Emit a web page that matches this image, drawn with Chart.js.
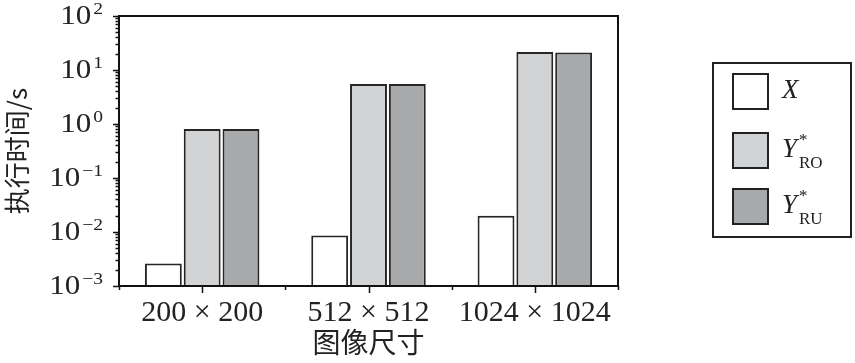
<!DOCTYPE html>
<html>
<head>
<meta charset="utf-8">
<script src="https://cdn.jsdelivr.net/npm/chart.js@4/dist/chart.umd.min.js"></script>
<style>
html, body { margin: 0; padding: 0; background: #fff; }
#wrap { position: relative; width: 855px; height: 363px; }
#legend { position: absolute; left: 712px; top: 62px; width: 136px; height: 172px; border: 2px solid #222; }
.sw { position: absolute; left: 18px; width: 33px; height: 33px; border: 2px solid #222; }
.main { position: absolute; left: 68px; font: italic 27px/26px 'Liberation Serif', serif; color: #222; }
.sup, .sub { position: absolute; left: 85px; font: 17px/16px 'Liberation Serif', serif; color: #222; }
</style>
</head>
<body>
<div id="wrap">
  <canvas id="chart" width="855" height="363"></canvas>
  <div id="legend"></div>
</div>
<script>
const categories = ['200 × 200', '512 × 512', '1024 × 1024'];
const xTimes = [0.0026, 0.0086, 0.020];
const yRoTimes = [0.81, 5.5, 21.5];
const yRuTimes = [0.81, 5.5, 21.0];
const yTickPowers = [-3, -2, -1, 0, 1, 2];

const seriesBase = ['X', 'Y', 'Y'];
const seriesSup = ['', '*', '*'];
const seriesSub = ['', 'RO', 'RU'];
const seriesColors = ['#ffffff', '#d2d3d5', '#a8a9ab'];

const edge = '#262626';
const serif = "'Liberation Serif', serif";

// legend, built from the series names
const legend = document.getElementById('legend');
const swTop = [9, 68, 124];
seriesBase.forEach((b, i) => {
  const sw = document.createElement('div');
  sw.className = 'sw';
  sw.style.top = swTop[i] + 'px';
  sw.style.background = seriesColors[i];
  legend.appendChild(sw);

  const m = document.createElement('div');
  m.className = 'main';
  m.style.top = (swTop[i] + 3) + 'px';
  m.textContent = b;
  legend.appendChild(m);

  if (seriesSup[i]) {
    const s = document.createElement('div');
    s.className = 'sup';
    s.style.top = (swTop[i] + 0) + 'px';
    s.textContent = seriesSup[i];
    legend.appendChild(s);
  }
  if (seriesSub[i]) {
    const s = document.createElement('div');
    s.className = 'sub';
    s.style.top = (swTop[i] + 23) + 'px';
    s.textContent = seriesSub[i];
    legend.appendChild(s);
  }
});

const axisDecor = {
  id: 'axisDecor',
  afterDraw(chart) {
    const { ctx, chartArea: a, scales: { x, y } } = chart;
    ctx.save();
    ctx.strokeStyle = '#111';
    ctx.lineWidth = 2;
    ctx.strokeRect(a.left, a.top, a.right - a.left, a.bottom - a.top);

    // y ticks: majors at powers of ten, minors at 2..9
    ctx.lineWidth = 1.5;
    ctx.beginPath();
    for (let p = yTickPowers[0]; p <= yTickPowers[yTickPowers.length - 1]; p++) {
      for (let k = 1; k <= 9; k++) {
        const v = k * Math.pow(10, p);
        if (v > y.max * 1.0001) break;
        const py = Math.round(y.getPixelForValue(v)) + 0.5;
        ctx.moveTo(a.left, py);
        ctx.lineTo(a.left - (k === 1 ? 6 : 3.5), py);
      }
    }
    // x ticks: long at category centres, short at boundaries
    for (let i = 0; i < categories.length; i++) {
      const px = Math.round(x.getPixelForTick(i)) + 0.5;
      ctx.moveTo(px, a.bottom);
      ctx.lineTo(px, a.bottom + 7);
    }
    const half = (x.getPixelForTick(1) - x.getPixelForTick(0)) / 2;
    for (let i = 0; i <= categories.length; i++) {
      const px = Math.round(x.getPixelForTick(0) - half + i * half * 2) + 0.5;
      ctx.moveTo(px, a.bottom);
      ctx.lineTo(px, a.bottom + 4);
    }
    ctx.stroke();

    // y labels 10^n, a little wider like the original typeface
    ctx.fillStyle = '#222';
    const sx = 1.15;
    yTickPowers.forEach((p) => {
      const py = y.getPixelForValue(Math.pow(10, p));
      const exp = p < 0 ? '\u2212' + Math.abs(p) : String(p);
      ctx.font = '17px ' + serif;
      const ew = ctx.measureText(exp).width * sx;
      ctx.font = '27px ' + serif;
      const bw = ctx.measureText('10').width * sx;
      const right = 103;
      ctx.save();
      ctx.translate(right - ew - 2 - bw, py + 1);
      ctx.scale(sx, 1);
      ctx.textBaseline = 'middle';
      ctx.textAlign = 'left';
      ctx.fillText('10', 0, 0);
      ctx.restore();
      ctx.save();
      ctx.translate(right - ew, py - 2);
      ctx.scale(sx, 1);
      ctx.font = '17px ' + serif;
      ctx.textBaseline = 'alphabetic';
      ctx.fillText(exp, 0, 0);
      ctx.restore();
    });
    ctx.restore();
  }
};

new Chart(document.getElementById('chart'), {
  type: 'bar',
  data: {
    labels: categories,
    datasets: [
      { label: 'X', data: xTimes, backgroundColor: seriesColors[0] },
      { label: 'Y*RO', data: yRoTimes, backgroundColor: seriesColors[1] },
      { label: 'Y*RU', data: yRuTimes, backgroundColor: seriesColors[2] }
    ]
  },
  options: {
    responsive: false,
    animation: false,
    devicePixelRatio: 1,
    layout: { padding: { top: 16, right: 237, left: 0, bottom: 0 } },
    datasets: {
      bar: {
        borderColor: edge,
        borderWidth: 2,
        categoryPercentage: 0.7,
        barPercentage: 0.95
      }
    },
    plugins: { legend: { display: false }, tooltip: { enabled: false } },
    scales: {
      x: {
        grid: { display: false, drawTicks: false },
        border: { display: false },
        ticks: {
          color: '#222',
          padding: 9,
          maxRotation: 0,
          autoSkip: false,
          font: { family: serif, size: 30 }
        },
        title: {
          display: true,
          text: '图像尺寸',
          color: '#222',
          padding: { top: 0, bottom: 4 },
          font: { family: "'Noto Sans CJK SC', sans-serif", size: 28 }
        },
        afterFit: (s) => { s.height = 77; }
      },
      y: {
        type: 'logarithmic',
        min: 0.001,
        max: 100,
        grid: { display: false, drawTicks: false },
        border: { display: false },
        ticks: { display: false },
        title: {
          display: true,
          text: '执行时间/s',
          color: '#222',
          padding: { top: 2, bottom: 0 },
          font: { family: "'Noto Sans CJK SC', sans-serif", size: 26 }
        },
        afterFit: (s) => { s.width = 119; }
      }
    }
  },
  plugins: [axisDecor]
});
</script>
</body>
</html>
